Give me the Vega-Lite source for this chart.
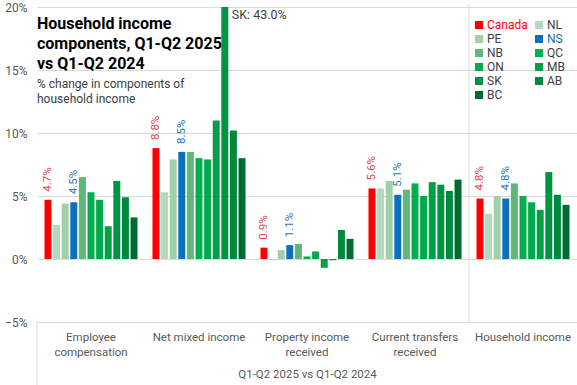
{
  "$schema": "https://vega.github.io/schema/vega-lite/v6.json",
  "width": 540,
  "height": 315,
  "autosize": {"type": "none"},
  "padding": {"left": 37, "top": 7, "right": 0, "bottom": 63},
  "background": "white",
  "config": {
    "font": "Roboto, sans-serif",
    "view": {"stroke": null}
  },
  "title": {
    "text": ["Household  income", "components, Q1-Q2 2025", "vs Q1-Q2 2024"],
    "subtitle": ["% change in components of", "household income"],
    "anchor": "start",
    "frame": "group",
    "orient": "top",
    "offset": -104,
    "fontSize": 16,
    "fontWeight": "bold",
    "lineHeight": 20,
    "color": "#000000",
    "subtitleFontSize": 12,
    "subtitleLineHeight": 15,
    "subtitleColor": "#404040",
    "subtitlePadding": 7
  },
  "datasets": {
    "bars": [
      {"category": "Employee compensation", "province": "Canada", "value": 0.047},
      {"category": "Employee compensation", "province": "NL", "value": 0.027},
      {"category": "Employee compensation", "province": "PE", "value": 0.044},
      {"category": "Employee compensation", "province": "NS", "value": 0.045},
      {"category": "Employee compensation", "province": "NB", "value": 0.065},
      {"category": "Employee compensation", "province": "QC", "value": 0.053},
      {"category": "Employee compensation", "province": "ON", "value": 0.047},
      {"category": "Employee compensation", "province": "MB", "value": 0.026},
      {"category": "Employee compensation", "province": "SK", "value": 0.062},
      {"category": "Employee compensation", "province": "AB", "value": 0.049},
      {"category": "Employee compensation", "province": "BC", "value": 0.033},
      {"category": "Net mixed income", "province": "Canada", "value": 0.088},
      {"category": "Net mixed income", "province": "NL", "value": 0.053},
      {"category": "Net mixed income", "province": "PE", "value": 0.079},
      {"category": "Net mixed income", "province": "NS", "value": 0.085},
      {"category": "Net mixed income", "province": "NB", "value": 0.085},
      {"category": "Net mixed income", "province": "QC", "value": 0.080},
      {"category": "Net mixed income", "province": "ON", "value": 0.079},
      {"category": "Net mixed income", "province": "MB", "value": 0.110},
      {"category": "Net mixed income", "province": "SK", "value": 0.430},
      {"category": "Net mixed income", "province": "AB", "value": 0.102},
      {"category": "Net mixed income", "province": "BC", "value": 0.080},
      {"category": "Property income received", "province": "Canada", "value": 0.009},
      {"category": "Property income received", "province": "NL", "value": -0.001},
      {"category": "Property income received", "province": "PE", "value": 0.007},
      {"category": "Property income received", "province": "NS", "value": 0.011},
      {"category": "Property income received", "province": "NB", "value": 0.012},
      {"category": "Property income received", "province": "QC", "value": 0.002},
      {"category": "Property income received", "province": "ON", "value": 0.006},
      {"category": "Property income received", "province": "MB", "value": -0.007},
      {"category": "Property income received", "province": "SK", "value": -0.001},
      {"category": "Property income received", "province": "AB", "value": 0.023},
      {"category": "Property income received", "province": "BC", "value": 0.016},
      {"category": "Current transfers received", "province": "Canada", "value": 0.056},
      {"category": "Current transfers received", "province": "NL", "value": 0.056},
      {"category": "Current transfers received", "province": "PE", "value": 0.062},
      {"category": "Current transfers received", "province": "NS", "value": 0.051},
      {"category": "Current transfers received", "province": "NB", "value": 0.055},
      {"category": "Current transfers received", "province": "QC", "value": 0.060},
      {"category": "Current transfers received", "province": "ON", "value": 0.050},
      {"category": "Current transfers received", "province": "MB", "value": 0.061},
      {"category": "Current transfers received", "province": "SK", "value": 0.059},
      {"category": "Current transfers received", "province": "AB", "value": 0.054},
      {"category": "Current transfers received", "province": "BC", "value": 0.063},
      {"category": "Household income", "province": "Canada", "value": 0.048},
      {"category": "Household income", "province": "NL", "value": 0.036},
      {"category": "Household income", "province": "PE", "value": 0.050},
      {"category": "Household income", "province": "NS", "value": 0.048},
      {"category": "Household income", "province": "NB", "value": 0.060},
      {"category": "Household income", "province": "QC", "value": 0.050},
      {"category": "Household income", "province": "ON", "value": 0.045},
      {"category": "Household income", "province": "MB", "value": 0.039},
      {"category": "Household income", "province": "SK", "value": 0.069},
      {"category": "Household income", "province": "AB", "value": 0.051},
      {"category": "Household income", "province": "BC", "value": 0.043}
    ],
    "annotation": [
      {"category": "Net mixed income", "province": "SK", "label": "SK: 43.0%"}
    ],
    "separators": [
      {"category": "Household income", "from": -0.05, "to": 0.202},
      {"category": "Employee compensation", "from": -0.05, "to": -0.10}
    ]
  },
  "layer": [
    {
      "data": {"name": "bars"},
      "mark": {"type": "bar", "clip": true},
      "encoding": {
        "x": {
          "field": "category",
          "type": "nominal",
          "sort": ["Employee compensation", "Net mixed income", "Property income received", "Current transfers received", "Household income"],
          "scale": {"paddingInner": 0, "paddingOuter": 0},
          "title": "Q1-Q2 2025 vs Q1-Q2 2024",
          "axis": {
            "orient": "bottom",
            "labelAngle": 0,
            "labelExpr": "datum.label == 'Employee compensation' ? ['Employee', 'compensation'] : datum.label == 'Property income received' ? ['Property income', 'received'] : datum.label == 'Current transfers received' ? ['Current transfers', 'received'] : datum.label",
            "labelBaseline": "top",
            "labelPadding": 9,
            "labelLineHeight": 15,
            "labelFontSize": 11.5,
            "labelColor": "#595959",
            "ticks": false,
            "domain": true,
            "domainColor": "#d9d9d9",
            "titleFontSize": 11.5,
            "titleFontWeight": "normal",
            "titleColor": "#595959",
            "titlePadding": 11
          }
        },
        "xOffset": {
          "field": "province",
          "type": "nominal",
          "sort": ["Canada", "NL", "PE", "NS", "NB", "QC", "ON", "MB", "SK", "AB", "BC"],
          "scale": {"paddingInner": 0.19, "paddingOuter": 0.87}
        },
        "y": {
          "field": "value",
          "type": "quantitative",
          "scale": {"domain": [-0.05, 0.20], "nice": false},
          "title": null,
          "axis": {
            "values": [-0.05, 0, 0.05, 0.10, 0.15, 0.20],
            "format": ".0%",
            "grid": true,
            "gridColor": "#d9d9d9",
            "domain": false,
            "ticks": false,
            "labelPadding": 10,
            "labelFontSize": 12,
            "labelColor": "#595959"
          }
        },
        "color": {
          "field": "province",
          "type": "nominal",
          "scale": {
            "domain": ["Canada", "PE", "NB", "ON", "SK", "BC", "NL", "NS", "QC", "MB", "AB"],
            "range": ["#FF0000", "#A0D0AA", "#60B878", "#00A84E", "#009444", "#006B30", "#B5D9BF", "#0A70C0", "#00B050", "#00A049", "#00883E"]
          },
          "legend": {
            "title": null,
            "orient": "none",
            "legendX": 436,
            "legendY": 12,
            "columns": 2,
            "symbolType": "square",
            "symbolSize": 64,
            "symbolStrokeWidth": 0,
            "labelFontSize": 12,
            "labelOffset": 2,
            "rowPadding": 2,
            "columnPadding": 5,
            "padding": 0,
            "encode": {
              "labels": {
                "update": {
                  "fill": {"signal": "datum.label == 'Canada' ? '#FF0000' : datum.label == 'NS' ? '#0A70C0' : '#404040'"}
                }
              }
            }
          }
        }
      }
    },
    {
      "data": {"name": "bars"},
      "transform": [{"filter": "datum.province == 'Canada' || datum.province == 'NS'"}],
      "mark": {"type": "text", "angle": 270, "align": "left", "baseline": "middle", "dx": 8, "fontSize": 11.5},
      "encoding": {
        "x": {"field": "category", "type": "nominal", "sort": ["Employee compensation", "Net mixed income", "Property income received", "Current transfers received", "Household income"]},
        "xOffset": {
          "field": "province",
          "type": "nominal",
          "sort": ["Canada", "NL", "PE", "NS", "NB", "QC", "ON", "MB", "SK", "AB", "BC"],
          "scale": {"paddingInner": 0.19, "paddingOuter": 0.87}
        },
        "y": {"field": "value", "type": "quantitative"},
        "text": {"field": "value", "type": "quantitative", "format": ".1%"},
        "color": {
          "condition": {"test": "datum.province == 'Canada'", "value": "#E0474C"},
          "value": "#2E75B6"
        }
      }
    },
    {
      "data": {"name": "annotation"},
      "mark": {"type": "text", "align": "left", "baseline": "top", "dx": 7, "dy": 2, "fontSize": 12.5, "color": "#404040"},
      "encoding": {
        "x": {"field": "category", "type": "nominal", "sort": ["Employee compensation", "Net mixed income", "Property income received", "Current transfers received", "Household income"]},
        "xOffset": {
          "field": "province",
          "type": "nominal",
          "sort": ["Canada", "NL", "PE", "NS", "NB", "QC", "ON", "MB", "SK", "AB", "BC"],
          "scale": {"paddingInner": 0.19, "paddingOuter": 0.87}
        },
        "y": {"datum": 0.20, "type": "quantitative"},
        "text": {"field": "label"}
      }
    },
    {
      "data": {"name": "separators"},
      "mark": {"type": "rule", "color": "#d9d9d9", "strokeWidth": 1, "clip": false},
      "encoding": {
        "x": {"field": "category", "type": "nominal", "bandPosition": 0, "sort": ["Employee compensation", "Net mixed income", "Property income received", "Current transfers received", "Household income"]},
        "y": {"field": "from", "type": "quantitative"},
        "y2": {"field": "to"}
      }
    }
  ]
}
